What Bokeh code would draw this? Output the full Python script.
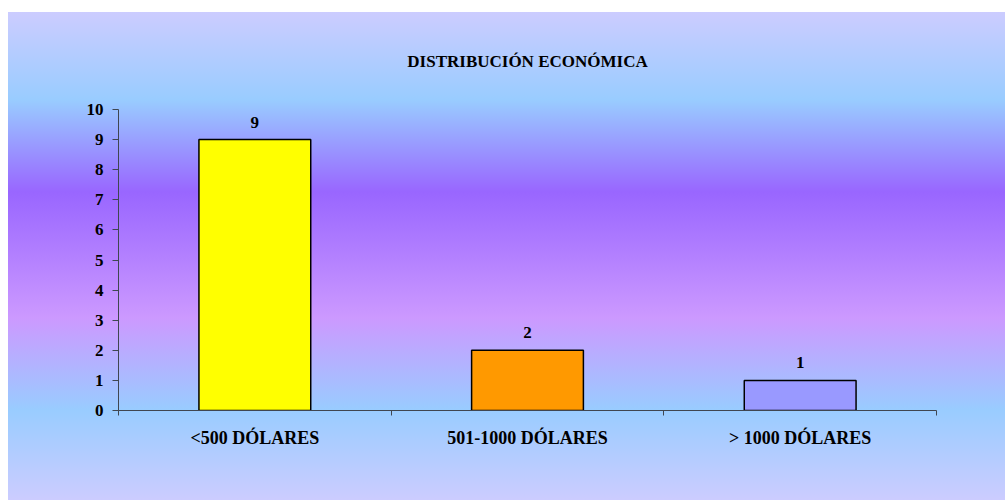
from bokeh.plotting import figure
from bokeh.models import (FactorRange, Range1d, LinearAxis, CategoricalAxis, FixedTicker,
                          ColumnDataSource, LabelSet, Title)
from bokeh.embed import file_html
from bokeh.resources import INLINE

# ---- data ----
categories = ["<500 DÓLARES", "501-1000 DÓLARES", "> 1000 DÓLARES"]
counts = [9, 2, 1]
bar_colors = ["#FFFF00", "#FF9900", "#9999FF"]
y_ticks = [0, 1, 2, 3, 4, 5, 6, 7, 8, 9, 10]
title_text = "DISTRIBUCIÓN ECONÓMICA"

FONT = "Liberation Serif"
AXIS_COLOR = "#3f4650"

src = ColumnDataSource(dict(cat=categories, n=counts, color=bar_colors,
                            lbl=[str(v) for v in counts]))

p = figure(width=1005, height=500, output_backend="svg", toolbar_location=None,
           x_range=FactorRange(factors=categories, range_padding=0),
           y_range=Range1d(0, 10), x_axis_location=None,
           min_border_left=118, min_border_right=69, min_border_top=109, min_border_bottom=90)

p.styles = {"background": (
    "linear-gradient(to right, #ffffff 0px, #ffffff 8px, transparent 8px, transparent 100%),"
    "linear-gradient(to bottom, #ffffff 0px, #ffffff 12px, #CCCCFF 12px, #99CCFF 100px, "
    "#9966FF 192px, #CC99FF 318px, #99CCFF 410px, #CCCCFF 500px)")}
p.background_fill_color = None
p.border_fill_color = None
p.outline_line_color = None
p.xgrid.visible = False
p.ygrid.visible = False

# title
p.title.text = title_text
p.title.align = "center"
p.title.offset = 6
p.title.text_font = FONT
p.title.text_font_style = "bold"
p.title.text_font_size = "17px"
p.title.text_color = "black"
if "standoff" in Title.properties():
    p.title.standoff = 77

# y axis
ya = p.yaxis[0]
ya.ticker = FixedTicker(ticks=y_ticks)
ya.axis_line_color = AXIS_COLOR
ya.major_tick_line_color = AXIS_COLOR
ya.major_tick_out = 6
ya.major_tick_in = 0
ya.minor_tick_line_color = None
ya.major_label_text_font = FONT
ya.major_label_text_font_style = "bold"
ya.major_label_text_font_size = "17px"
ya.major_label_text_color = "black"
ya.major_label_standoff = 9

# x boundary axis (ticks between categories, in the factor range's synthetic coordinates)
xa = LinearAxis(ticker=FixedTicker(ticks=list(range(len(categories) + 1))))
xa.axis_line_color = AXIS_COLOR
xa.major_tick_line_color = AXIS_COLOR
xa.major_tick_out = 5
xa.major_tick_in = 0
xa.minor_tick_line_color = None
xa.major_label_text_font_size = "1px"
xa.major_label_text_alpha = 0
xa.major_label_standoff = 0
p.add_layout(xa, "below")

# category labels
ca = CategoricalAxis()
ca.axis_line_color = None
ca.major_tick_line_color = None
ca.minor_tick_line_color = None
ca.major_label_text_font = FONT
ca.major_label_text_font_style = "bold"
ca.major_label_text_font_size = "18px"
ca.major_label_text_color = "black"
ca.major_label_standoff = 6
p.add_layout(ca, "below")

p.vbar(x="cat", top="n", width=0.41, source=src, fill_color="color",
       line_color="black", line_width=1.5)

p.add_layout(LabelSet(x="cat", y="n", text="lbl", source=src, text_align="center",
                      text_baseline="alphabetic", y_offset=12, text_font=FONT,
                      text_font_style="bold", text_font_size="17px", text_color="black"))

open("out.html", "w").write(file_html(p, INLINE))
